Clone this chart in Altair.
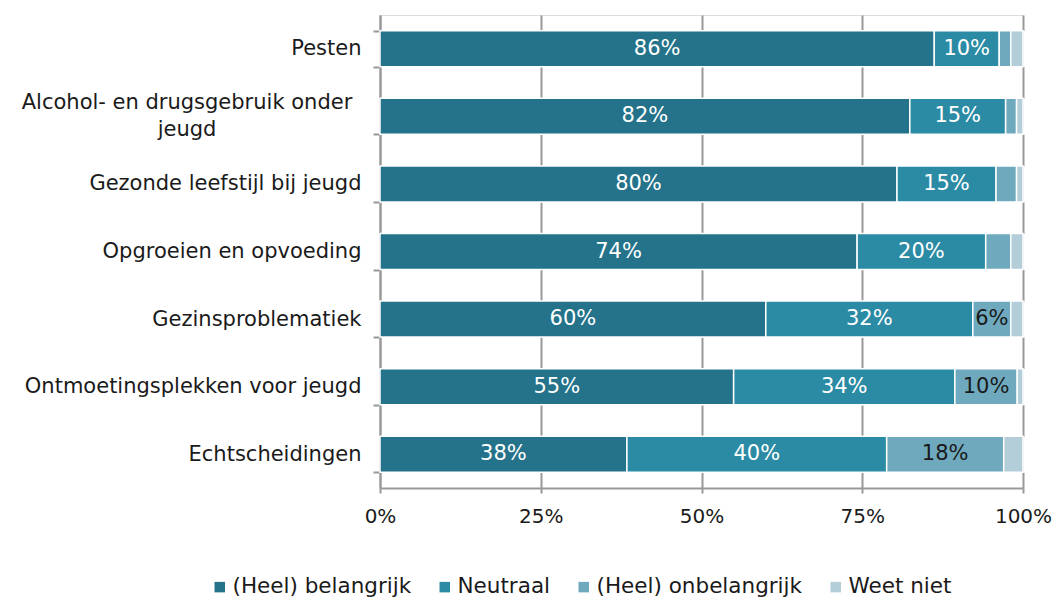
import altair as alt
import pandas as pd

categories = [
    "Pesten",
    "Alcohol- en drugsgebruik onder\njeugd",
    "Gezonde leefstijl bij jeugd",
    "Opgroeien en opvoeding",
    "Gezinsproblematiek",
    "Ontmoetingsplekken voor jeugd",
    "Echtscheidingen",
]
series = ["(Heel) belangrijk", "Neutraal", "(Heel) onbelangrijk", "Weet niet"]
belangrijk = [86.2, 82.4, 80.4, 74.2, 60.0, 55.0, 38.4]
neutraal = [10.1, 14.9, 15.4, 20.0, 32.2, 34.4, 40.4]
onbelangrijk = [1.8, 1.7, 3.2, 3.9, 5.9, 9.7, 18.2]
weet_niet = [1.9, 1.0, 1.0, 1.9, 1.9, 0.9, 3.0]
colors = ["#24738A", "#2B8BA4", "#6EA9BE", "#B3CDD9"]
label_colors = ["#FFFFFF", "#FFFFFF", "#1A1A1A", "#1A1A1A"]

rows = []
for si, (s, vals) in enumerate(zip(series, [belangrijk, neutraal, onbelangrijk, weet_niet])):
    for c, v in zip(categories, vals):
        rows.append({"cat": c, "serie": s, "order": si, "value": v,
                     "label": f"{round(v)}%" if v >= 5 else "",
                     "tcolor": label_colors[si]})
df = pd.DataFrame(rows)
cat_df = pd.DataFrame({"cat": [c for c in categories if "\n" in c]})

FONT = "DejaVu Sans"
H = 473
W = 643

base = alt.Chart(df).transform_stack(
    stack="value", groupby=["cat"], as_=["v0", "v1"],
    sort=[alt.SortField("order", order="ascending")]
).transform_calculate(mid="(datum.v0 + datum.v1) / 2")

y_scale = alt.Scale(domain=categories, paddingInner=0.467, paddingOuter=0.2335)

y_enc = alt.Y("cat:N", sort=categories, title=None, scale=y_scale,
              axis=alt.Axis(labelExpr="indexof(datum.label, '\\n') >= 0 ? '' : datum.label",
                            tickBand="extent",
                            tickSize=7, tickColor="#999999", tickWidth=2,
                            domainColor="#999999", domainWidth=2,
                            labelFontSize=21, labelFont=FONT, labelColor="#1A1A1A",
                            labelPadding=12, labelLimit=400,
                            grid=False))

bars = base.mark_bar(stroke="white", strokeWidth=1.5).encode(
    x=alt.X("v0:Q", scale=alt.Scale(domain=[0, 100], nice=False), title=None,
            axis=alt.Axis(values=[0, 25, 50, 75, 100], labelExpr="datum.value + '%'",
                          labelFontSize=20, labelFont=FONT, labelColor="#1A1A1A",
                          labelFlush=False,
                          tickSize=5, tickColor="#999999", tickWidth=2,
                          domainColor="#999999", domainWidth=2, labelPadding=13,
                          grid=True, gridColor="#999999", gridWidth=2,
                          gridDash=[31.6, 36], gridDashOffset=15.8)),
    x2="v1:Q",
    y=y_enc,
    color=alt.Color("serie:N", sort=series,
                    scale=alt.Scale(domain=series, range=colors),
                    legend=alt.Legend(title=None, orient="none", direction="horizontal",
                                      legendX=-171, legendY=561,
                                      labelFontSize=21.5, labelFont=FONT, labelColor="#1A1A1A",
                                      symbolType="square", symbolSize=110, symbolStrokeWidth=0,
                                      columnPadding=22, labelOffset=2, labelLimit=400)),
    order=alt.Order("order:Q"),
)

texts = base.mark_text(fontSize=21, font=FONT, baseline="middle", align="center").encode(
    x="mid:Q",
    y=alt.Y("cat:N", sort=categories, scale=y_scale),
    text="label:N",
    color=alt.Color("tcolor:N", scale=None),
)

multi_label = alt.Chart(cat_df).mark_text(
    fontSize=21, font=FONT, baseline="middle", align="center", dy=-13,
    lineBreak="\n", lineHeight=27, color="#1A1A1A"
).encode(
    x=alt.value(-193),
    y=alt.Y("cat:N", sort=categories, scale=y_scale),
    text="cat:N",
)

chart = alt.layer(bars, texts, multi_label).properties(
    width=W, height=H,
    autosize=alt.AutoSizeParams(type="none"),
    padding={"left": 372, "top": 7, "right": 29, "bottom": 110},
).configure_view(stroke=None).configure(background="white")

chart.save("out.html", embed_options={"renderer": "svg", "actions": False})
